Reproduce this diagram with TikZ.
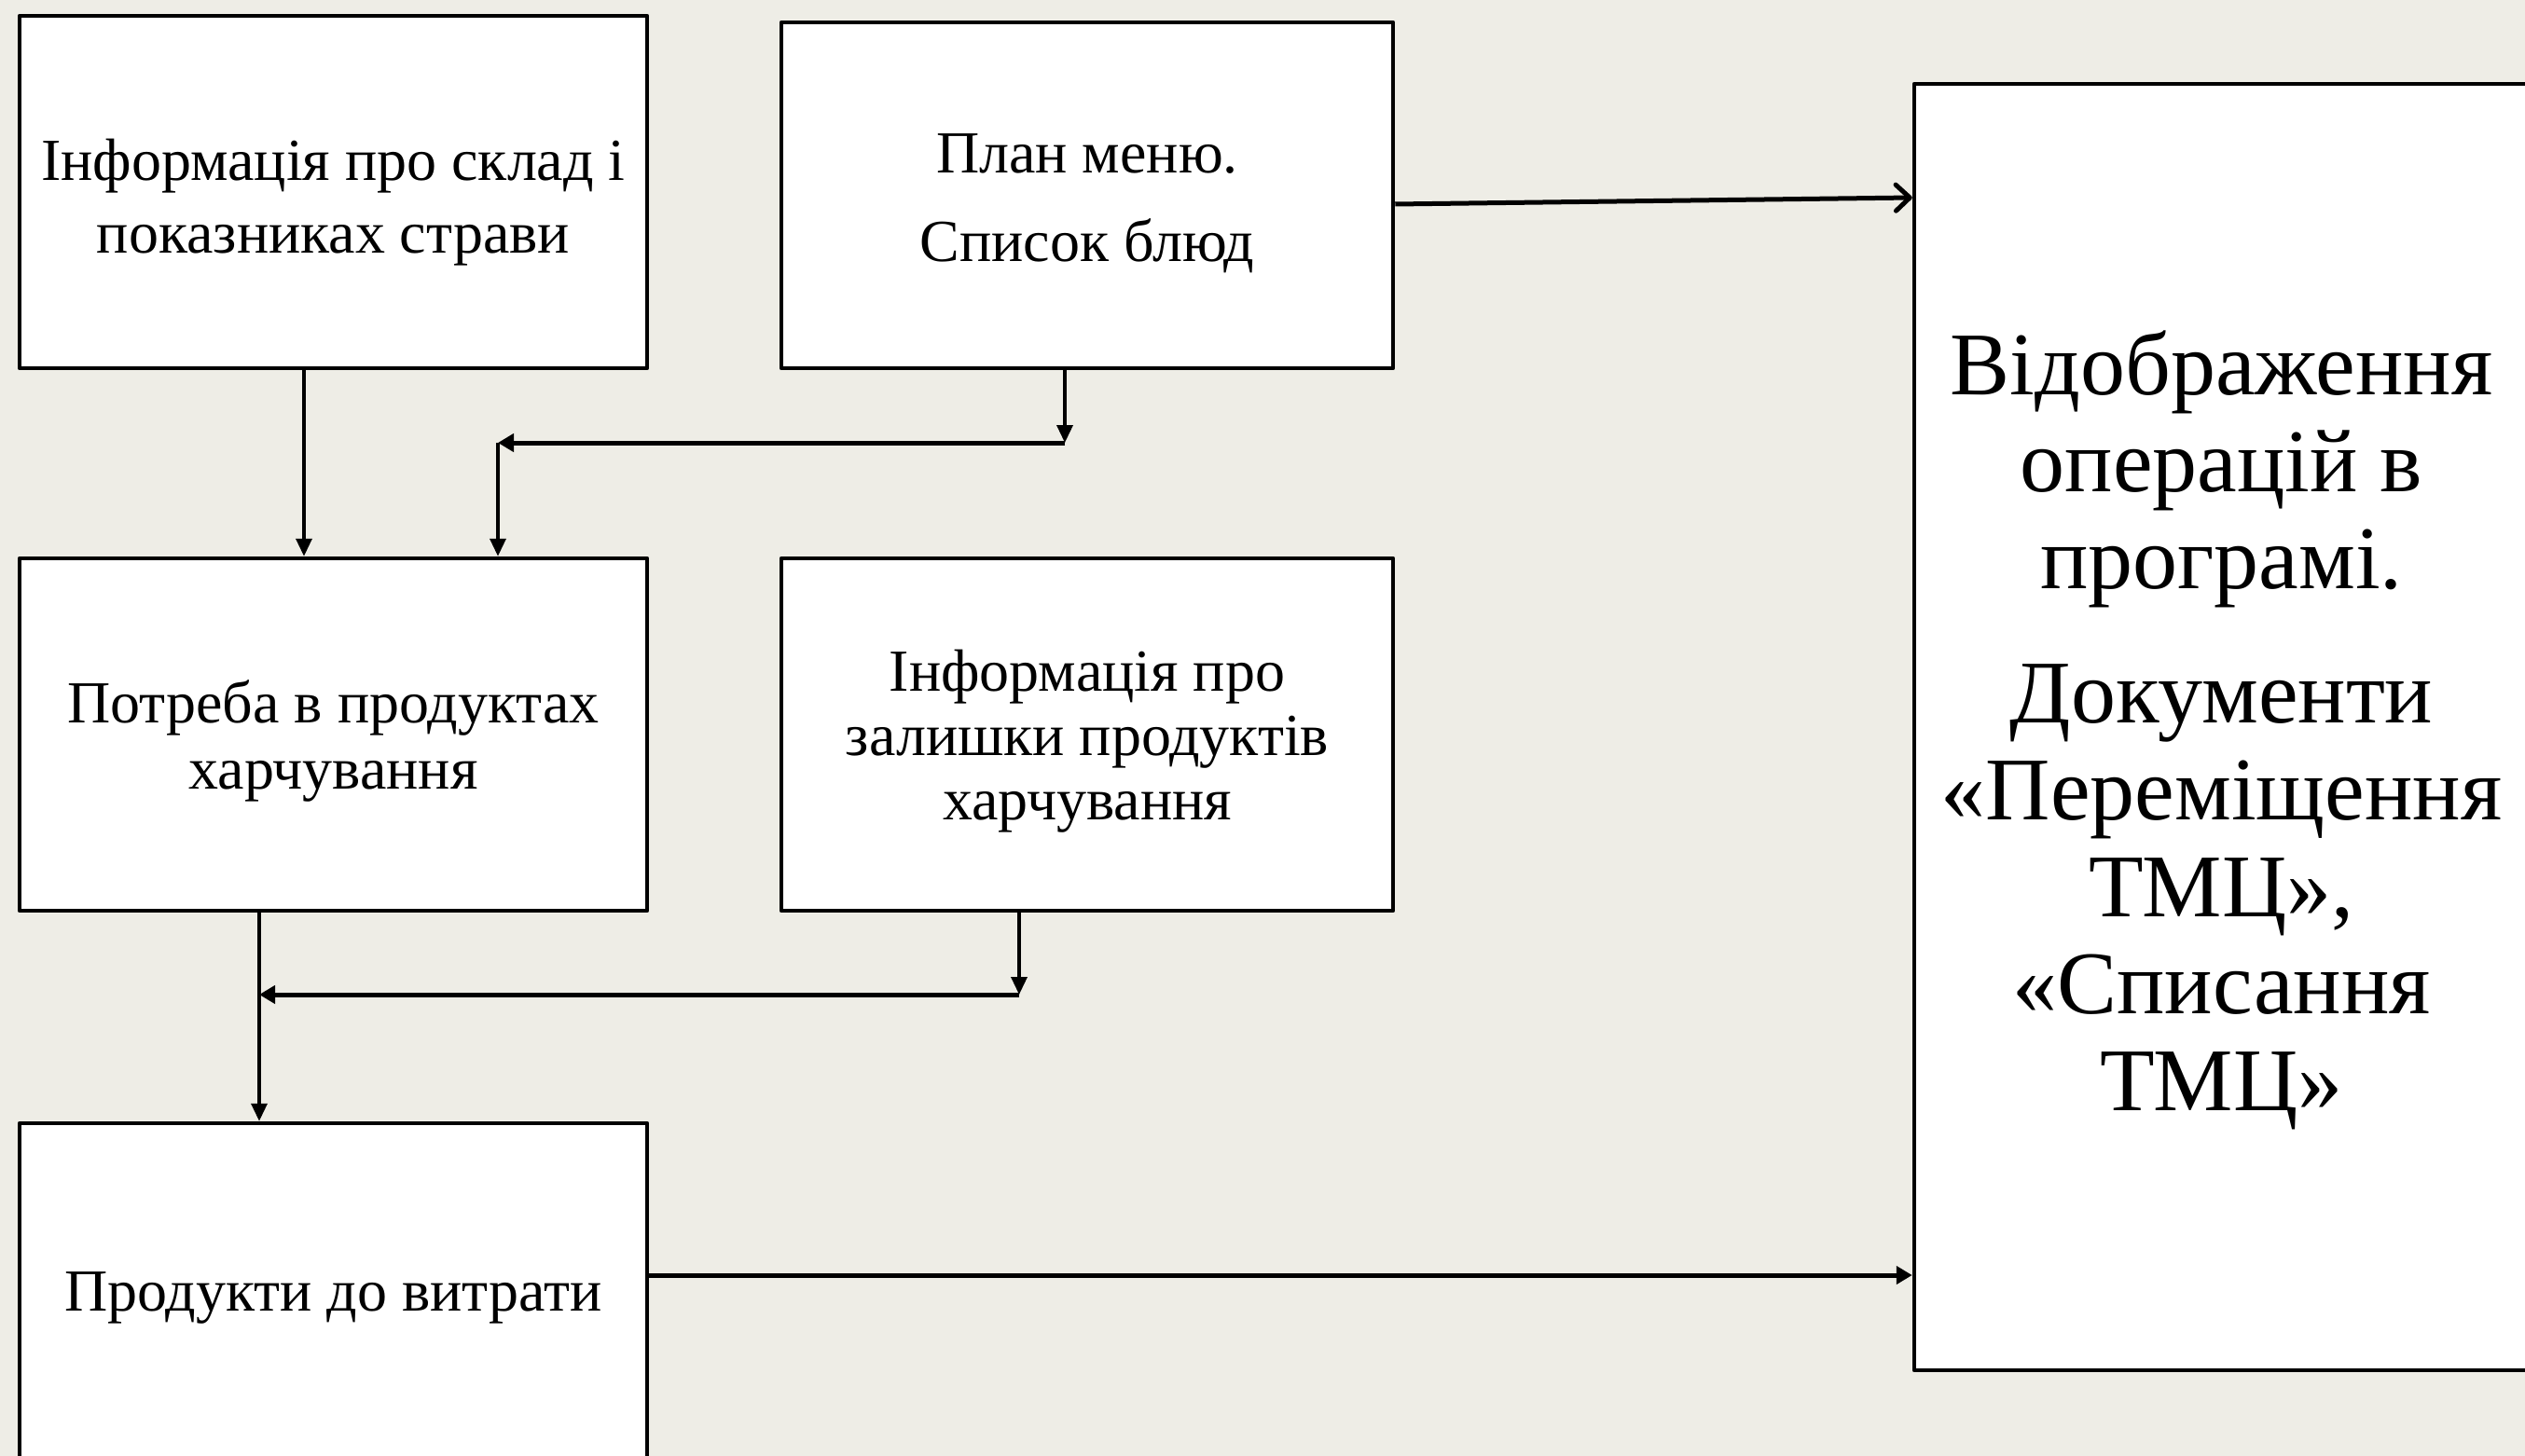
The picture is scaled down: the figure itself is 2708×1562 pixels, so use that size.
\documentclass[tikz,border=0pt]{standalone}
\usepackage{fontspec}
\setmainfont{Liberation Serif}
\usetikzlibrary{arrows.meta}
\definecolor{bgc}{RGB}{238,237,230}
\begin{document}
\begin{tikzpicture}[x=1pt,y=-1pt,
  box/.style={draw=black, fill=white, line width=4.5pt, line join=round, inner sep=0pt},
  txt/.style={inner sep=0pt, align=center, font=\fontsize{64}{78}\selectfont},
  vl/.style={line width=3.5pt, -{Triangle[length=19pt,width=17pt]}},
  hl/.style={line width=5pt, -{Triangle[length=17pt,width=19pt]}},
  barb/.style={line width=5pt, -{Straight Barb[length=15pt,width=28pt,line cap=round,line join=round]}}]
\useasboundingbox (0,0) rectangle (2708,1562);
\clip (0,0) rectangle (2708,1562);
\fill[bgc] (0,0) rectangle (2708,1562);
% boxes
\node[box, minimum width=673pt, minimum height=378pt] (A) at (357.5,206) {};
\node[box, minimum width=656pt, minimum height=371pt] (B) at (1166,209.5) {};
\node[box, minimum width=659pt, minimum height=1380pt] (C) at (2382.5,780) {};
\node[box, minimum width=673pt, minimum height=378pt] (D) at (357.5,788) {};
\node[box, minimum width=656pt, minimum height=378pt] (E) at (1166,788) {};
\node[box, minimum width=673pt, minimum height=365pt] (F) at (357.5,1387.5) {};
% texts
\node[txt, yshift=-11pt] (At) at (A.center) {Інформація про склад і\\показниках страви};
\node[txt, yshift=-9pt] (Bt) at (B.center) {План меню.\\[17pt]Список блюд};
\node[txt, yshift=-3pt, font=\fontsize{96}{104}\selectfont] (Ct) at (C.center) {Відображення\\операцій в\\програмі.\\[40pt]Документи\\«Переміщення\\ТМЦ»,\\«Списання\\ТМЦ»};
\node[txt, yshift=-7pt, font=\fontsize{64}{71}\selectfont] (Dt) at (D.center) {Потреба в продуктах\\харчування};
\node[txt, yshift=-7pt, font=\fontsize{64}{69}\selectfont] (Et) at (E.center) {Інформація про\\залишки продуктів\\харчування};
\node[txt, yshift=-5pt] (Ft) at (F.center) {Продукти до витрати};
% connectors
\coordinate (xa) at (326,0);
\coordinate (j1) at (1142,475);
\coordinate (j2) at (534,475);
\coordinate (j3) at (1093,1067);
\coordinate (j4) at (278,1067);
\coordinate (p1) at (0,219);
\coordinate (p2) at (0,212);
\coordinate (p3) at (0,1368);
\draw[vl] (A.south -| xa) -- (D.north -| xa);
\draw[vl] (B.south -| j1) -- (j1);
\draw[hl] (j1) -- (j2);
\draw[vl] (j2) -- (D.north -| j2);
\draw[vl] (D.south -| j4) -- (F.north -| j4);
\draw[vl] (E.south -| j3) -- (j3);
\draw[hl] (j3) -- (j4);
\draw[barb] (B.east |- p1) -- (C.west |- p2);
\draw[hl] (F.east |- p3) -- (C.west |- p3);
\end{tikzpicture}
\end{document}
